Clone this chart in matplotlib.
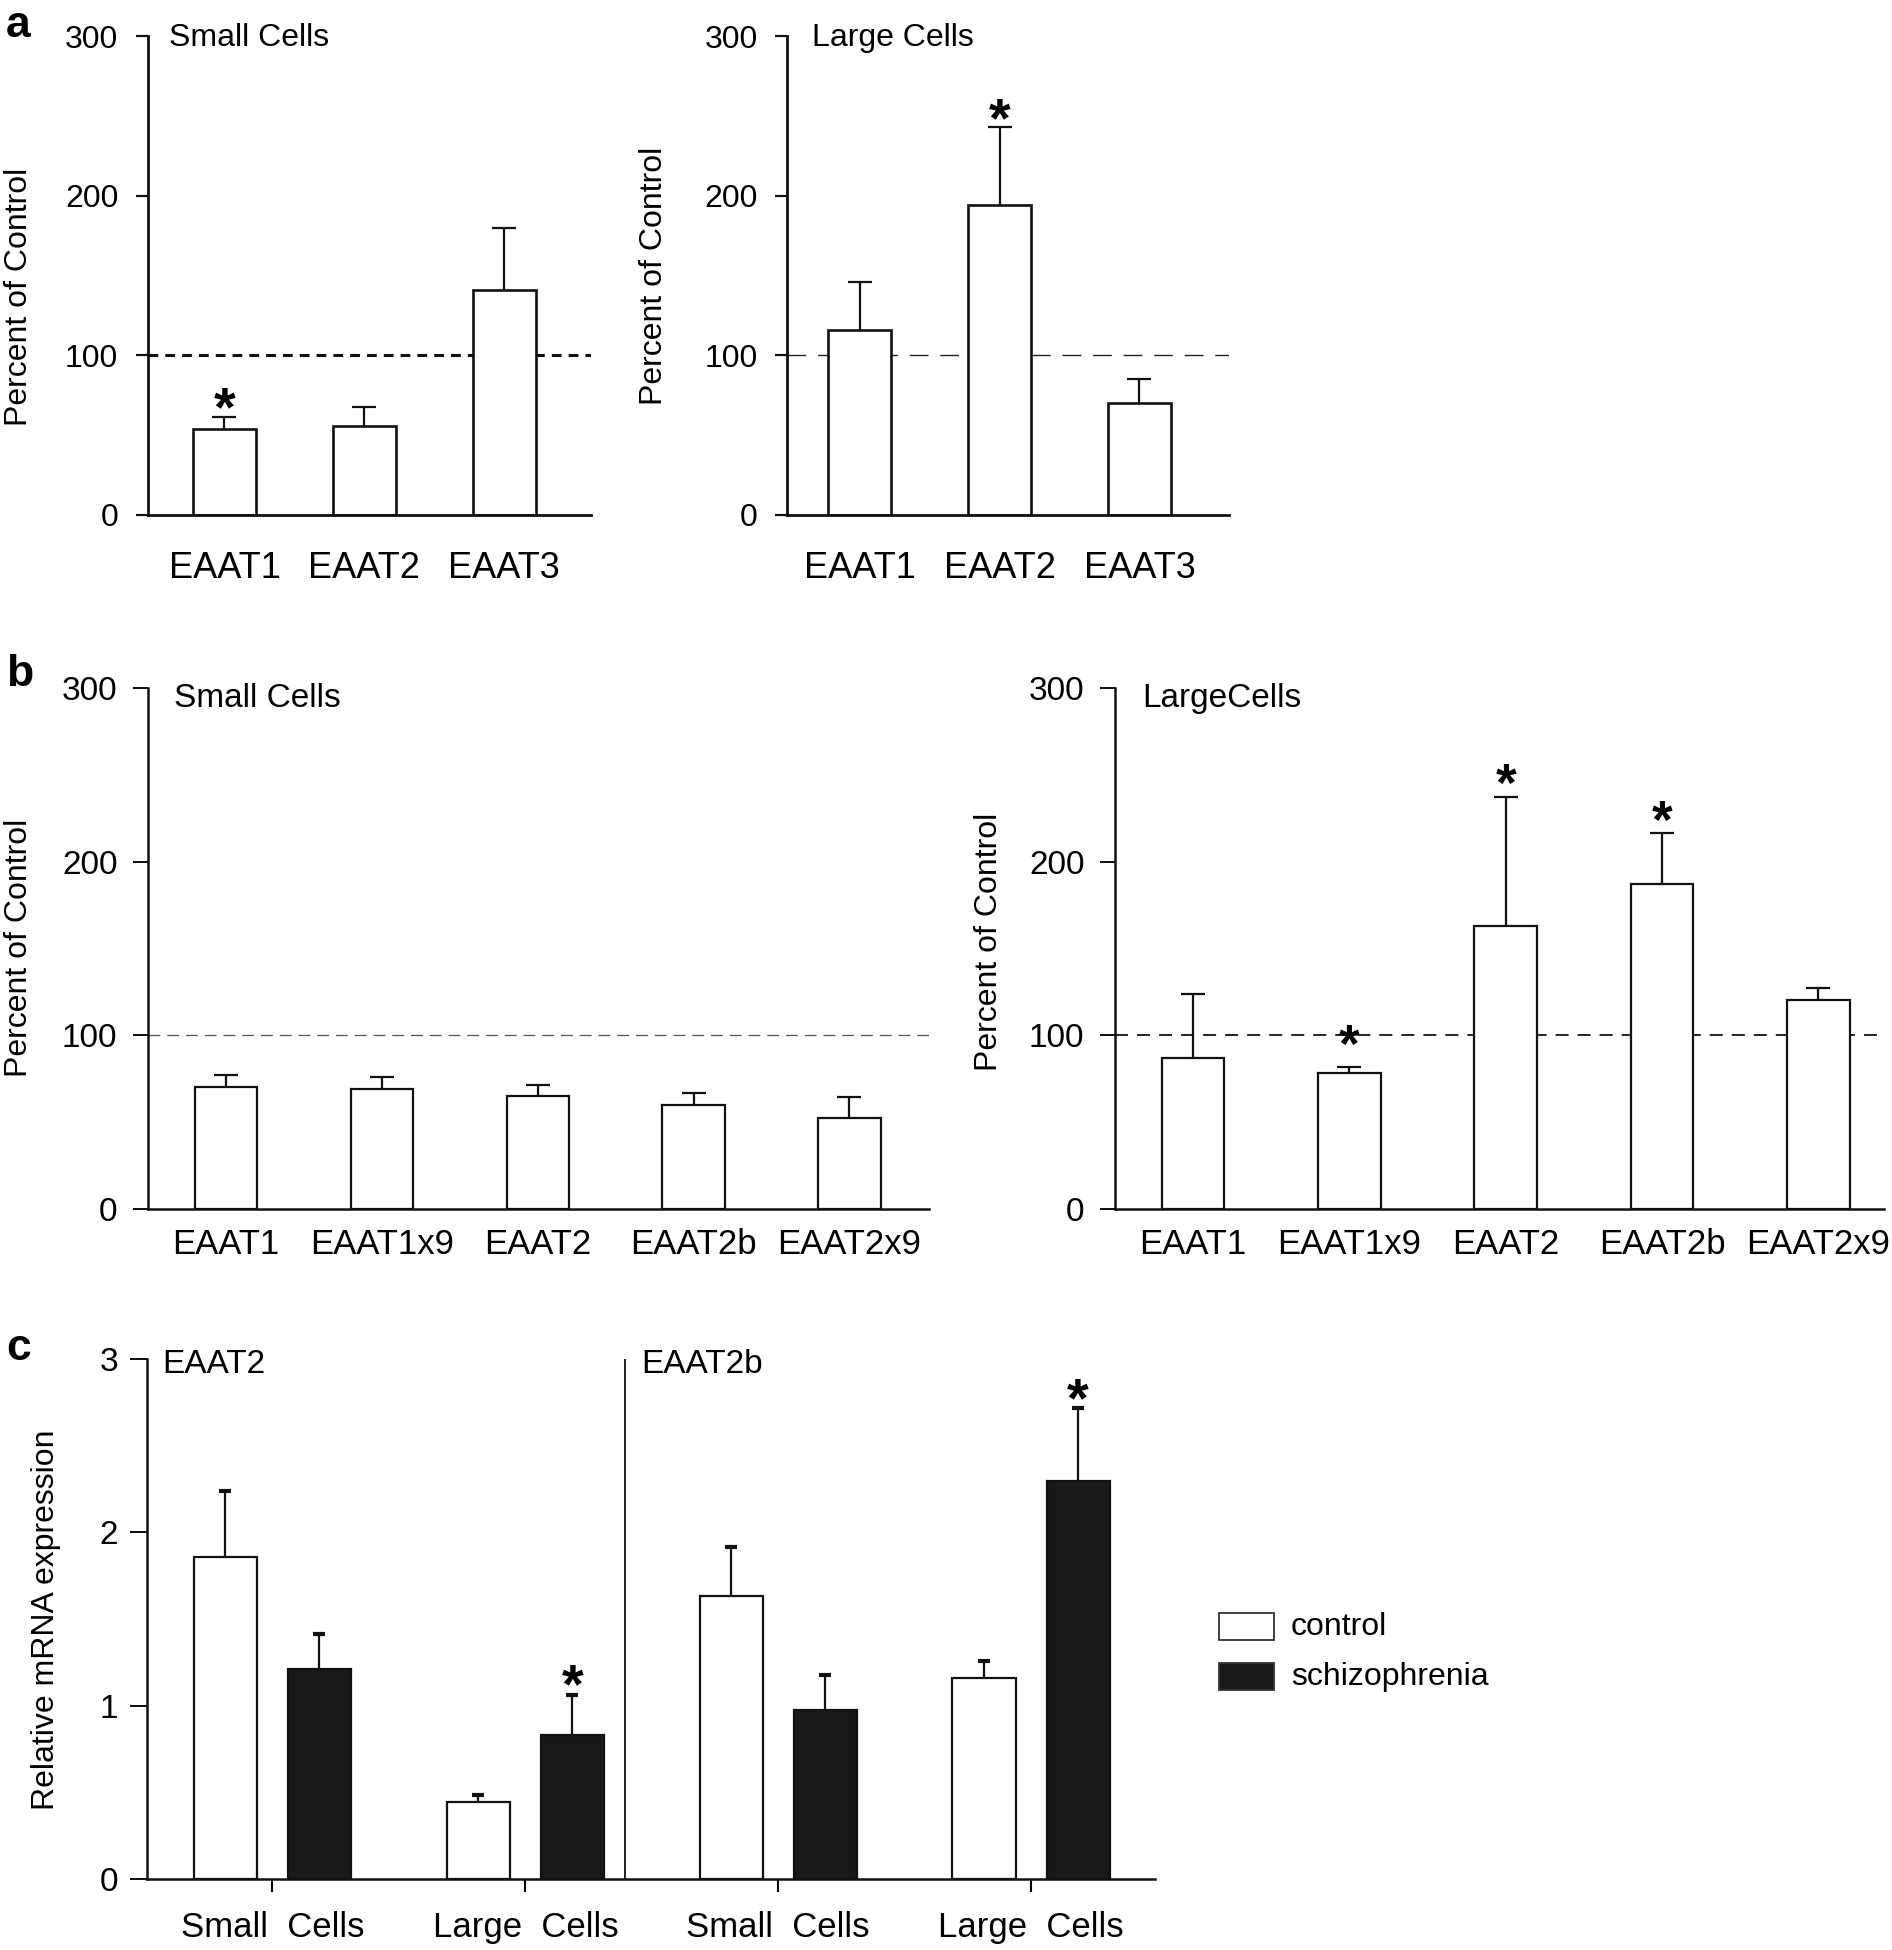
import matplotlib
matplotlib.use('Agg')
import matplotlib.pyplot as plt
from matplotlib.patches import Rectangle

plt.rcParams['font.family'] = ['Liberation Sans', 'DejaVu Sans']
NARROW = ['Liberation Sans Narrow', 'Liberation Sans', 'DejaVu Sans']

W, H = 1892, 1950

# ---- panel a : EAAT1-3, percent of control ----
a_genes = ['EAAT1', 'EAAT2', 'EAAT3']
a_small_mean = [54, 56, 141]
a_small_sem = [7.5, 11.5, 39]
a_small_stars = [(0, 73)]
a_large_mean = [116, 194, 70]
a_large_sem = [30, 49, 15]
a_large_stars = [(1, 254)]

# ---- panel b : splice variants ----
b_genes = ['EAAT1', 'EAAT1x9', 'EAAT2', 'EAAT2b', 'EAAT2x9']
b_small_mean = [70.5, 69, 65, 60, 52.5]
b_small_sem = [6.5, 7, 6.5, 7, 12]
b_small_stars = []
b_large_mean = [87, 78.5, 163, 187, 120.5]
b_large_sem = [37, 3.5, 74, 29.5, 7]
b_large_stars = [(1, 99), (2, 249), (3, 228)]

# ---- panel c : relative mRNA expression ----
c_groups = ['Small  Cells', 'Large  Cells', 'Small  Cells', 'Large  Cells']
c_control = [1.86, 0.445, 1.635, 1.157]
c_control_sem = [0.38, 0.04, 0.28, 0.10]
c_schizo = [1.213, 0.833, 0.977, 2.297]
c_schizo_sem = [0.20, 0.23, 0.20, 0.42]
c_stars = [(1, 1.17), (3, 2.82)]
c_titles = ['EAAT2', 'EAAT2b']

fig = plt.figure(figsize=(W / 100, H / 100), dpi=100)


def px_axes(left, top, right, bottom):
    return fig.add_axes([left / W, 1 - bottom / H, (right - left) / W, (bottom - top) / H])


def style_axes(ax, spine_lw, tick_len, tick_pad, tick_size, family):
    for s in ['top', 'right']:
        ax.spines[s].set_visible(False)
    for s in ['left', 'bottom']:
        ax.spines[s].set_linewidth(spine_lw)
        ax.spines[s].set_color('#111111')
    ax.tick_params(axis='y', direction='out', length=tick_len, width=spine_lw * 0.8,
                   pad=tick_pad, labelsize=tick_size, color='#111111')
    for lab in ax.get_yticklabels():
        lab.set_family(family)


def up_errors(ax, x, mean, sem, capsize, capthick):
    # error bars only upwards, no cap at the bar top
    _, caps, _ = ax.errorbar(x, mean, yerr=[[0] * len(sem), sem], fmt='none', ecolor='#111111',
                             elinewidth=1.6, capsize=capsize, capthick=capthick, zorder=3)
    caps[0].set_visible(False)


def star(ax, x, y, size):
    ax.annotate('*', xy=(x, y), xytext=(0, -0.575 * size + 4), textcoords='offset points',
                ha='center', va='baseline', fontsize=size, fontweight='bold')


def bar_panel(ax, genes, mean, sem, stars, xlim, width, edge_lw, star_size):
    x = list(range(len(genes)))
    ax.bar(x, mean, width=width, color='white', edgecolor='#111111', linewidth=edge_lw, zorder=2)
    up_errors(ax, x, mean, sem, 8.5, 1.6)
    for i, y in stars:
        star(ax, i, y, star_size)
    ax.set_xlim(*xlim)
    ax.set_xticks(x)
    ax.set_xticklabels(genes)


# panel a
axa1 = px_axes(147.5, 36, 591, 515)
axa2 = px_axes(787, 36, 1229, 515)
for ax, mean, sem, stars, xlim in [(axa1, a_small_mean, a_small_sem, a_small_stars, (-0.55, 2.62)),
                                    (axa2, a_large_mean, a_large_sem, a_large_stars, (-0.52, 2.64))]:
    bar_panel(ax, a_genes, mean, sem, stars, xlim, 0.45, 1.9, 40)
    ax.set_ylim(0, 300)
    ax.set_yticks([0, 100, 200, 300])
    style_axes(ax, 2.0, 9, 12, 23, ['Liberation Sans'])
    ax.tick_params(axis='x', length=0, pad=26, labelsize=26)
axa1.axhline(100, color='#111111', lw=2.2, dashes=(3.2, 2.3), zorder=1)
axa2.axhline(100, color='#222222', lw=1.0, dashes=(13.5, 8.5), zorder=1)
axa1.text(0.048, 0.995, 'Small Cells', transform=axa1.transAxes, ha='left', va='center', fontsize=23)
axa2.text(0.056, 0.995, 'Large Cells', transform=axa2.transAxes, ha='left', va='center', fontsize=23)

# panel b
axb1 = px_axes(148, 688, 929, 1209)
axb2 = px_axes(1115, 688, 1884, 1209)
for ax, mean, sem, stars, xlim in [(axb1, b_small_mean, b_small_sem, b_small_stars, (-0.5, 4.51)),
                                    (axb2, b_large_mean, b_large_sem, b_large_stars, (-0.5, 4.42))]:
    bar_panel(ax, b_genes, mean, sem, stars, xlim, 0.4, 1.6, 38)
    ax.set_ylim(0, 300)
    ax.set_yticks([0, 100, 200, 300])
    style_axes(ax, 1.8, 11, 11, 24, NARROW)
    ax.tick_params(axis='x', length=0, pad=14, labelsize=25)
    for lab in ax.get_xticklabels():
        lab.set_family(NARROW)
axb1.axhline(100, color='#555555', lw=0.9, dashes=(9.5, 5.5), zorder=1)
axb2.axhline(100, color='#111111', lw=1.3, dashes=(7.2, 5.0), zorder=1)
axb1.text(0.033, 0.98, 'Small Cells', transform=axb1.transAxes, ha='left', va='center',
          fontsize=24, family=NARROW)
axb2.text(0.035, 0.98, 'LargeCells', transform=axb2.transAxes, ha='left', va='center',
          fontsize=24, family=NARROW)

# panel c
axc = px_axes(147, 1359, 1155, 1879)
xc = list(range(len(c_groups)))
off, bw = 0.186, 0.25
xc_ctrl = [v - off for v in xc]
xc_schz = [v + off for v in xc]
axc.bar(xc_ctrl, c_control, width=bw, color='white', edgecolor='#111111', linewidth=1.6, zorder=2)
axc.bar(xc_schz, c_schizo, width=bw, color='#191919', edgecolor='#111111', linewidth=1.6, zorder=2)
up_errors(axc, xc_ctrl, c_control, c_control_sem, 4, 3)
up_errors(axc, xc_schz, c_schizo, c_schizo_sem, 4, 3)
for i, y in c_stars:
    star(axc, i + off, y, 40)
axc.axvline(1.395, ymin=0, ymax=1, color='#111111', lw=1.3)
axc.set_xlim(-0.496, 3.49)
axc.set_ylim(0, 3)
axc.set_yticks([0, 1, 2, 3])
axc.set_xticks(xc)
axc.set_xticklabels(c_groups)
style_axes(axc, 1.8, 12, 9, 24, NARROW)
axc.tick_params(axis='x', direction='out', length=9, width=1.5, pad=14, labelsize=25)
for lab in axc.get_xticklabels():
    lab.set_family(NARROW)
axc.text(0.015, 0.99, c_titles[0], transform=axc.transAxes, ha='left', va='center',
         fontsize=24, family=NARROW)
axc.text(0.49, 0.99, c_titles[1], transform=axc.transAxes, ha='left', va='center',
         fontsize=24, family=NARROW)

# legend for panel c
for y0, fc, lab in [(1613, 'white', 'control'), (1663, '#191919', 'schizophrenia')]:
    fig.add_artist(Rectangle((1219 / W, 1 - (y0 + 27) / H), 55 / W, 27 / H, transform=fig.transFigure,
                             facecolor=fc, edgecolor='#333333', linewidth=1.3))
    fig.text(1291 / W, 1 - (y0 + 14) / H, lab, ha='left', va='center', fontsize=23)

# y labels
for x, y, txt in [(19, 297, 'Percent of Control'), (654, 276, 'Percent of Control'),
                  (19, 948, 'Percent of Control'), (989, 942, 'Percent of Control'),
                  (46, 1620, 'Relative mRNA expression')]:
    fig.text(x / W, 1 - y / H, txt, rotation=90, ha='center', va='center', fontsize=23)

# panel letters
for y, letter in [(37, 'a'), (686, 'b'), (1360, 'c')]:
    fig.text(6 / W, 1 - y / H, letter, ha='left', va='baseline', fontsize=32, fontweight='bold')

fig.savefig('out.png', dpi=100)
